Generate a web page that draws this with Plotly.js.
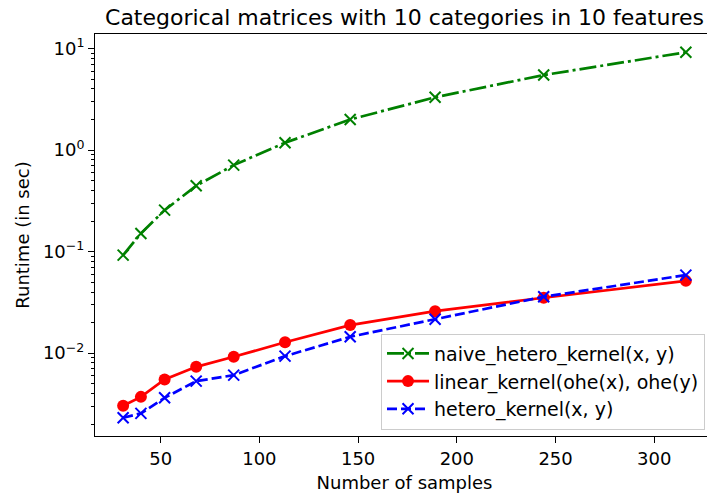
<!DOCTYPE html>
<html><head><meta charset="utf-8">
<script src="https://cdn.plot.ly/plotly-3.0.1.min.js"></script>
<style>html,body{margin:0;padding:0;overflow:hidden;background:#fff}#chart{width:720px;height:495px}</style>
</head><body><div id="chart"></div>
<script>
const samples = [31, 40, 52, 68, 87, 113, 146, 189, 244, 316];
const naiveHetero = [0.0924, 0.151, 0.256, 0.445, 0.711, 1.18, 2.0, 3.31, 5.48, 9.18];
const linearOhe = [0.00303, 0.00371, 0.00551, 0.00733, 0.0092, 0.0128, 0.0189, 0.0259, 0.0351, 0.0515];
const hetero = [0.00231, 0.00255, 0.00363, 0.0053, 0.00607, 0.00934, 0.0145, 0.0216, 0.0359, 0.0587];
const seriesNames = ['naive_hetero_kernel(x, y)', 'linear_kernel(ohe(x), ohe(y)', 'hetero_kernel(x, y)'];
const xTicks = [50, 100, 150, 200, 250, 300];
const yTickVals = [0.01, 0.1, 1, 10];
const yTickText = ['10<sup>\u22122</sup>', '10<sup>\u22121</sup>', '10<sup>0</sup>', '10<sup>1</sup>'];
const yMinorVals = [0.002,0.003,0.004,0.005,0.006,0.007,0.008,0.009,
  0.02,0.03,0.04,0.05,0.06,0.07,0.08,0.09,
  0.2,0.3,0.4,0.5,0.6,0.7,0.8,0.9,
  2,3,4,5,6,7,8,9];

const FONT = 'DejaVu Sans, sans-serif';
const traces = [
  {x: samples, y: naiveHetero, name: seriesNames[0], mode: 'lines+markers',
   line: {color: '#008000', width: 2.7, dash: '17px,4px,3px,4px'},
   marker: {symbol: 'x-thin', size: 11, line: {color: '#008000', width: 2}, color: '#008000'}},
  {x: samples, y: linearOhe, name: seriesNames[1], mode: 'lines+markers',
   line: {color: '#ff0000', width: 2.7},
   marker: {symbol: 'circle', size: 12, color: '#ff0000'}},
  {x: samples, y: hetero, name: seriesNames[2], mode: 'lines+markers',
   line: {color: '#0000ff', width: 2.7, dash: '10px,4px'},
   marker: {symbol: 'x-thin', size: 11, line: {color: '#0000ff', width: 2}, color: '#0000ff'}}
];
const layout = {
  width: 720, height: 495,
  margin: {l: 95, r: 6, t: 34, b: 59, pad: 0},
  paper_bgcolor: '#fff', plot_bgcolor: '#fff',
  font: {family: FONT, size: 18, color: '#000'},
  title: {text: 'Categorical matrices with 10 categories in 10 features',
          font: {family: FONT, size: 22, color: '#000'},
          x: 0.5, xref: 'paper', xanchor: 'center', y: 1 - 17/495, yref: 'container', yanchor: 'middle'},
  showlegend: true,
  legend: {x: 0.9855, y: 0.016, xanchor: 'right', yanchor: 'bottom', xref: 'paper', yref: 'paper',
           bgcolor: 'rgba(255,255,255,0.8)', bordercolor: '#cccccc', borderwidth: 1, itemwidth: 42,
           font: {family: FONT, size: 19, color: '#000'}, traceorder: 'normal'},
  xaxis: {range: [16.75, 330.25], tickvals: xTicks, ticks: 'outside', ticklen: 6, tickwidth: 1, tickcolor: '#000',
          showline: true, linecolor: '#000', linewidth: 1, mirror: true, showgrid: false, zeroline: false,
          tickfont: {family: FONT, size: 18, color: '#000'},
          title: {text: 'Number of samples', font: {family: FONT, size: 18, color: '#000'}, standoff: 8}},
  yaxis: {type: 'log', range: [-2.816, 1.143], tickmode: 'array', tickvals: yTickVals, ticktext: yTickText,
          ticks: 'outside', ticklen: 6, tickwidth: 1, tickcolor: '#000',
          minor: {tickmode: 'array', tickvals: yMinorVals, ticks: 'outside', ticklen: 3.5, tickwidth: 1, tickcolor: '#000', showgrid: false},
          showline: true, linecolor: '#000', linewidth: 1, mirror: true, showgrid: false, zeroline: false,
          tickfont: {family: FONT, size: 18, color: '#000'},
          title: {text: 'Runtime (in sec)', font: {family: FONT, size: 18, color: '#000'}, standoff: 8}}
};
Plotly.newPlot('chart', traces, layout, {displayModeBar: false, staticPlot: true});
</script></body></html>
